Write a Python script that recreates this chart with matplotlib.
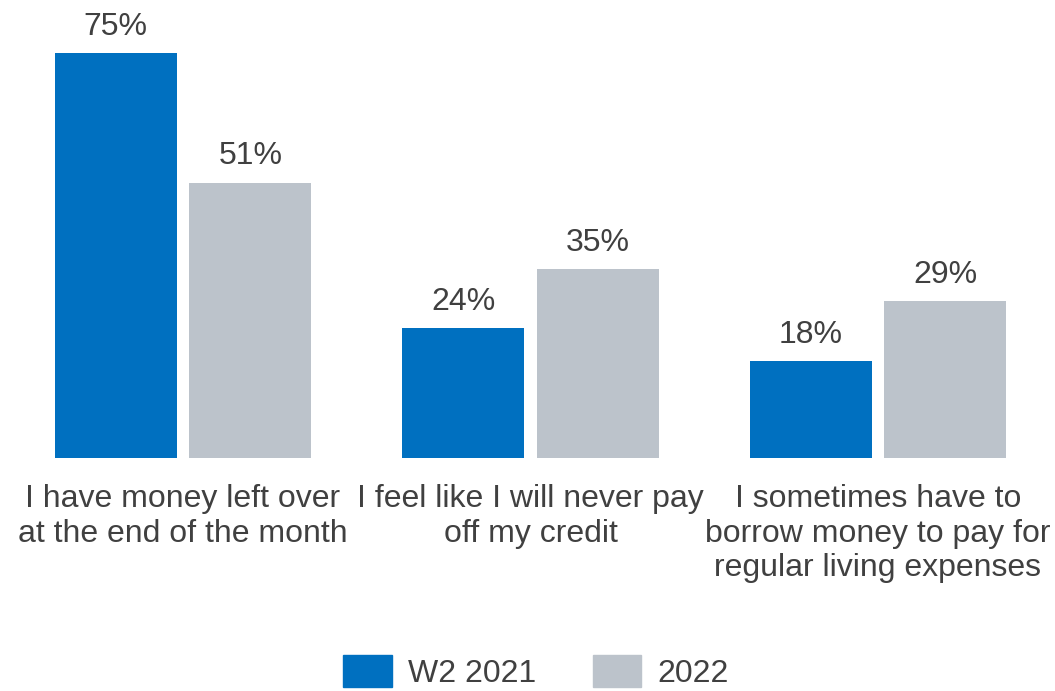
import matplotlib.pyplot as plt
import numpy as np
from matplotlib.patches import Patch

plt.rcParams['font.family'] = ['Liberation Sans', 'DejaVu Sans']

# Survey statements and shares agreeing, per wave
categories = [
    "I have money left over\nat the end of the month",
    "I feel like I will never pay\noff my credit",
    "I sometimes have to\nborrow money to pay for\nregular living expenses",
]
w2_2021 = [75, 24, 18]
y2022 = [51, 35, 29]
series_names = ["W2 2021", "2022"]

BLUE = "#0070C0"
GRAY = "#BCC3CB"
TEXT = "#404040"
FS = 23

fig = plt.figure(figsize=(10.55, 6.91), dpi=100)
ax = fig.add_axes([0, 233 / 691, 1, 458 / 691])

x = np.arange(len(categories))
width = 0.351
offset = 0.194

bars1 = ax.bar(x - offset, w2_2021, width, color=BLUE)
bars2 = ax.bar(x + offset, y2022, width, color=GRAY)

for bars, vals in ((bars1, w2_2021), (bars2, y2022)):
    for b, v in zip(bars, vals):
        ax.annotate(f"{v}%", (b.get_x() + b.get_width() / 2, v),
                    xytext=(0, 8), textcoords="offset points",
                    ha="center", va="bottom", fontsize=FS, color=TEXT)

ax.set_xlim(-183 / 347.5, (1055 - 183) / 347.5)
ax.set_ylim(0, 458 / 5.4)
ax.set_xticks(x)
ax.set_xticklabels(categories, fontsize=FS, color=TEXT, linespacing=1.19)
ax.tick_params(axis="x", length=0, pad=19)
ax.set_yticks([])
for s in ax.spines.values():
    s.set_visible(False)

handles = [Patch(color=BLUE), Patch(color=GRAY)]
fig.legend(handles, series_names, loc="center", bbox_to_anchor=(536 / 1055, 19 / 691),
           ncol=2, frameon=False, fontsize=FS, labelcolor=TEXT,
           handlelength=1.52, handleheight=1.15, handletextpad=0.5,
           columnspacing=1.77, borderpad=0)

fig.savefig("out.png", dpi=100)
